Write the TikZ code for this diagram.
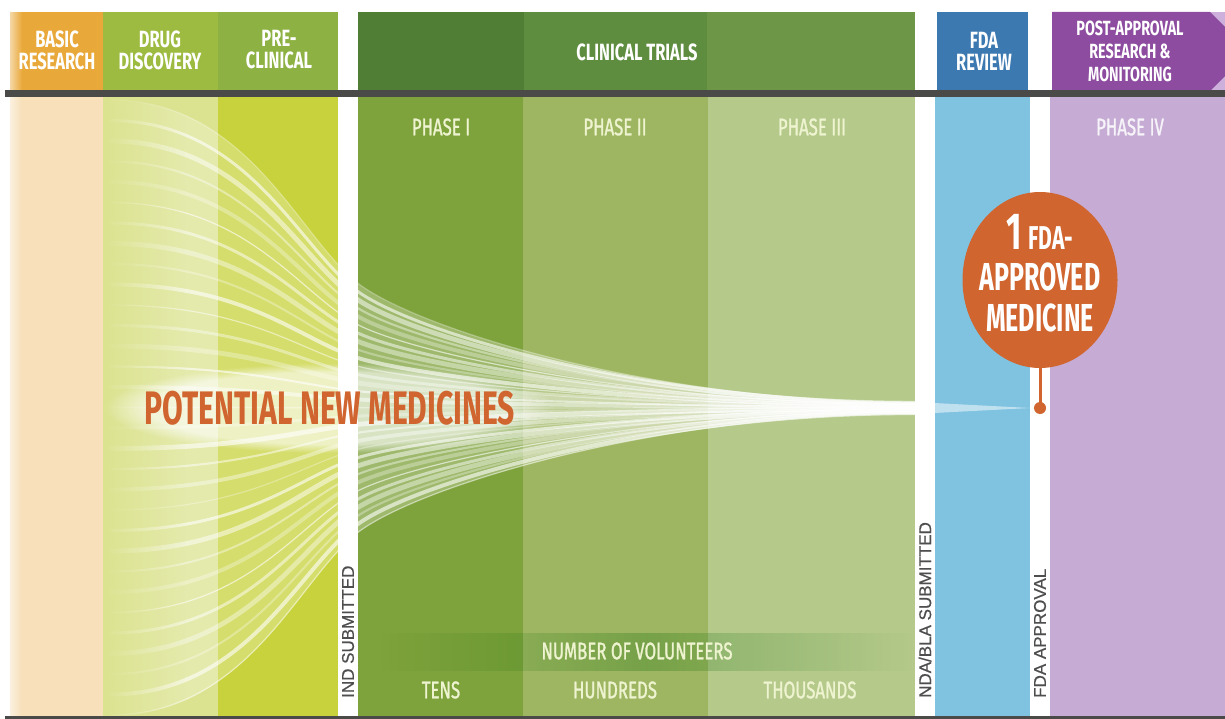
\documentclass[tikz,border=0pt]{standalone}
\usepackage{fontspec}
\usetikzlibrary{fadings,shapes.geometric}
\newfontfamily\cond{Fira Sans}[FakeStretch=0.70]
\newfontfamily\condmed{Fira Sans}[FakeStretch=0.70, FakeBold=1.2]
\newfontfamily\condbig{Fira Sans}[FakeStretch=0.64]
\newfontfamily\plainsans{Liberation Sans}[FakeBold=0.6]
\definecolor{brhdr}{HTML}{E9A93A}\definecolor{brbody}{HTML}{F7E0BA}
\definecolor{ddhdr}{HTML}{9CBB40}\definecolor{ddbody}{HTML}{DCE390}
\definecolor{pchdr}{HTML}{8DB143}\definecolor{pcbody}{HTML}{C8D23C}
\definecolor{ponehdr}{HTML}{507E35}\definecolor{ponebody}{HTML}{7EA23C}
\definecolor{ptwohdr}{HTML}{5F8D3F}\definecolor{ptwobody}{HTML}{9EB661}
\definecolor{pthreehdr}{HTML}{6D9647}\definecolor{pthreebody}{HTML}{B4C98A}
\definecolor{fdahdr}{HTML}{3D79B1}\definecolor{fdabody}{HTML}{80C3E0}
\definecolor{posthdr}{HTML}{8D4C9F}\definecolor{postbody}{HTML}{C6ABD4}
\definecolor{postlight}{HTML}{CDB0DC}
\definecolor{darkbar}{HTML}{4A4A48}
\definecolor{medorange}{HTML}{D0652F}
\definecolor{phasetxt}{HTML}{EEF3D0}
\definecolor{rottxt}{HTML}{4E4E4E}
\tikzfading[name=fadeends, left color=transparent!100, right color=transparent!100, middle color=transparent!0]
\tikzset{
  hdr/.style={font=\cond\bfseries\fontsize{23.5}{22}\selectfont, text=white, align=center, inner sep=0pt},
  phaselbl/.style={font=\condmed\fontsize{24}{24}\selectfont, text=phasetxt, inner sep=0pt},
  vollbl/.style={font=\condmed\fontsize{24}{24}\selectfont, text=phasetxt, inner sep=0pt},
  rotlbl/.style={font=\plainsans\fontsize{17}{18}\selectfont, text=rottxt, rotate=90, anchor=west, inner sep=0pt},
  bigorange/.style={font=\condbig\bfseries\fontsize{47}{47}\selectfont, text=medorange, inner sep=0pt},
  streak/.style={white, line cap=round}
}
\begin{document}
\begin{tikzpicture}[x=1pt,y=-1pt]
\useasboundingbox (0,0) rectangle (1225,719);
\fill[white] (0,0) rectangle (1225,719);
\begin{scope}
\clip (0,0) rectangle (1225,719);
% ---- body columns
\fill[brbody] (10,97) rectangle (103,716);
\fill[ddbody] (103,97) rectangle (218,716);
\fill[pcbody] (218,97) rectangle (338,716);
\fill[ponebody] (358,97) rectangle (523,716);
\fill[ptwobody] (523,97) rectangle (708,716);
\fill[pthreebody] (708,97) rectangle (915,716);
\fill[fdabody] (935,97) rectangle (1030,716);
\fill[postbody] (1050,97) rectangle (1225,716);
% ---- funnel
\begin{scope}
\clip (103,97) rectangle (915,716);
\fill[white, opacity=.25]
  (110,100) .. controls (250,100) and (300,241) .. (360,285)
  .. controls (420,329) and (650,402) .. (915,402)
  -- (915,414)
  .. controls (650,414) and (420,487) .. (360,531)
  .. controls (300,575) and (250,716) .. (110,716) -- cycle;
\foreach \k in {0,...,30}{
  \pgfmathsetmacro\yz{100+\k*20.5}
  \pgfmathsetmacro\yb{408+(\yz-408)*0.4}
  \pgfmathsetmacro\sl{(408-\yz)/308*0.73}
  \pgfmathsetmacro\ya{\yb-\sl*60}
  \pgfmathsetmacro\yc{\yb+\sl*60}
  \pgfmathsetmacro\ye{408+(\yz-408)*0.018}
  \pgfmathsetmacro\lw{1.2+mod(\k*7,5)*0.9}
  \pgfmathsetmacro\op{0.3+mod(\k*3,4)*0.1}
  \draw[streak, line width=\lw pt, opacity=\op]
    (110,\yz) .. controls (250,\yz) and (300,\ya) .. (360,\yb)
    .. controls (420,\yc) and (650,\ye) .. (915,\ye);
}
\end{scope}
% fade the streaks in on the left
\fill[ddbody, path fading=east] (103,97) rectangle (185,716);
% glow behind the big label
\fill[white, opacity=.6, path fading=circle with fuzzy edge 20 percent] (330,408) ellipse [x radius=225, y radius=45];
% white gaps
\fill[white] (338,97) rectangle (358,716);
\fill[white] (915,97) rectangle (935,716);
\fill[white] (1030,97) rectangle (1050,716);
% light wedge across the FDA review column
\fill[white, opacity=.5] (915,402) -- (1030,408) -- (915,414) -- cycle;
% ---- header
\fill[brhdr] (10,12) rectangle (103,91);
\fill[ddhdr] (103,12) rectangle (218,91);
\fill[pchdr] (218,12) rectangle (338,91);
\fill[ponehdr] (358,12) rectangle (524,91);
\fill[ptwohdr] (524,12) rectangle (707,91);
\fill[pthreehdr] (707,12) rectangle (915,91);
\fill[fdahdr] (937,12) rectangle (1028,91);
\fill[postlight] (1052,12) rectangle (1225,91);
\fill[posthdr] (1052,12) -- (1210,12) -- (1250,51.5) -- (1210,91) -- (1052,91) -- cycle;
% left edge fade
\fill[white, path fading=east] (0,0) rectangle (22,719);
% dark bars
\fill[darkbar] (5,90) rectangle (1225,97);
\fill[darkbar] (5,716) rectangle (1225,719);
% volunteer band
\fill[black!60!green, opacity=.25, path fading=fadeends] (380,633) rectangle (912,671);
\end{scope}
% ---- header labels
\node[hdr] (basic) at (57,50) {BASIC\\RESEARCH};
\node[hdr] (drug) at (160,50) {DRUG\\DISCOVERY};
\node[hdr] (pre) at (279,50) {PRE-\\CLINICAL};
\node[hdr] (clin) at (637,52) {CLINICAL TRIALS};
\node[hdr] (fda) at (984,51) {FDA\\REVIEW};
\node[hdr, font=\cond\bfseries\fontsize{20.5}{23}\selectfont] (post) at (1130,51) {POST-APPROVAL\\RESEARCH \&\\MONITORING};
% ---- phase labels
\node[phaselbl] (p1) at (441,127) {PHASE I};
\node[phaselbl] (p2) at (615,127) {PHASE II};
\node[phaselbl] (p3) at (812,127) {PHASE III};
\node[phaselbl, text=white!85!postbody] (p4) at (1130,127) {PHASE IV};
% ---- big label
\node[bigorange] (pnm) at (330,408) {POTENTIAL NEW MEDICINES};
% ---- approved medicine
\node[ellipse, fill=medorange, minimum width=155pt, minimum height=176pt, inner sep=0pt] (circ) at (1040,280) {};
\node[circle, fill=medorange, minimum size=12pt, inner sep=0pt] (dot) at (1040,408) {};
\draw[medorange, line width=3pt] (circ.south) -- (dot.center);
\node[font=\condbig\bfseries\fontsize{39}{41}\selectfont, text=white, align=center, inner sep=0pt] (circtxt) at (1040,273)
  {{\fontsize{52}{41}\selectfont 1}\,{\fontsize{33}{41}\selectfont FDA-}\\APPROVED\\MEDICINE};
% ---- rotated milestones
\node[rotlbl] (ind) at (348,698) {IND SUBMITTED};
\node[rotlbl] (nda) at (925,698) {NDA/BLA SUBMITTED};
\node[rotlbl] (appr) at (1040,698) {FDA APPROVAL};
% ---- volunteers
\node[vollbl] (vol) at (637,651) {NUMBER OF VOLUNTEERS};
\node[vollbl] (tens) at (441,690) {TENS};
\node[vollbl] (hund) at (615,690) {HUNDREDS};
\node[vollbl] (thou) at (810,690) {THOUSANDS};
\end{tikzpicture}
\end{document}
